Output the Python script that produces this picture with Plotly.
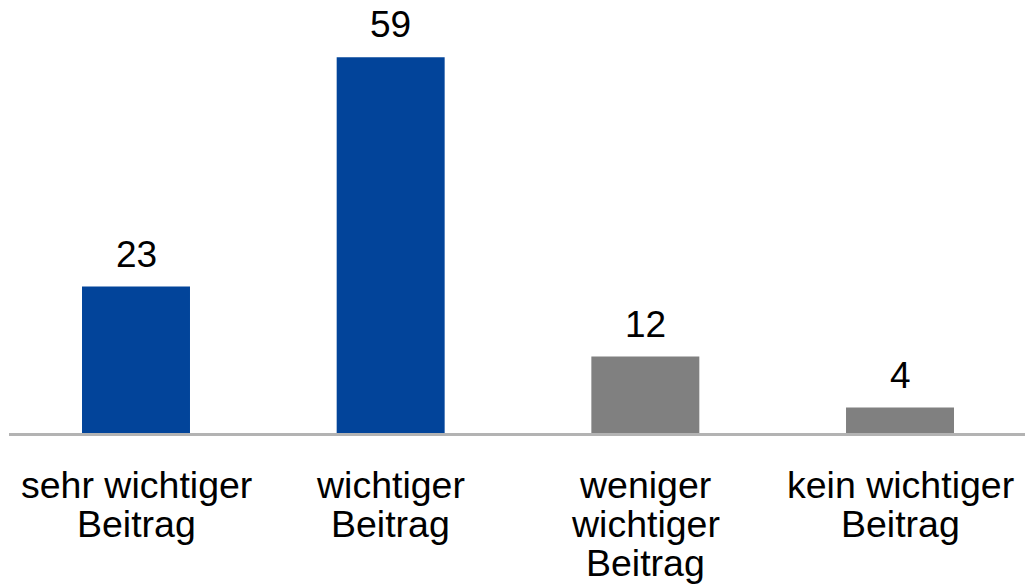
import plotly.graph_objects as go

categories = ["sehr wichtiger Beitrag", "wichtiger Beitrag", "weniger wichtiger Beitrag", "kein wichtiger Beitrag"]
tick_lines = [["sehr wichtiger", "Beitrag"], ["wichtiger", "Beitrag"], ["weniger", "wichtiger", "Beitrag"], ["kein wichtiger", "Beitrag"]]
values = [23, 59, 12, 4]
colors = ["#02449A", "#02449A", "#808080", "#808080"]

FONT = "Liberation Sans, Arial, sans-serif"

fig = go.Figure()
fig.add_trace(go.Bar(x=categories, y=values, marker=dict(color=colors, line=dict(width=0)), width=0.424))

for c, v in zip(categories, values):
    fig.add_annotation(x=c, y=v, text=str(v), showarrow=False, yanchor="bottom", yshift=10,
                       font=dict(family=FONT, size=37, color="#000000"))

for c, lines in zip(categories, tick_lines):
    for i, line in enumerate(lines):
        fig.add_annotation(x=c, y=0, yref="y", text=line, showarrow=False, yanchor="middle",
                           yshift=-(52 + 39 * i), font=dict(family=FONT, size=37.5, color="#000000"))

fig.update_layout(
    width=1025, height=584,
    margin=dict(l=9, r=0, t=0, b=151),
    plot_bgcolor="white", paper_bgcolor="white",
    showlegend=False,
    font=dict(family=FONT, size=36, color="#000000"),
)
fig.update_xaxes(showline=True, linecolor="#B3B3B3", linewidth=2.5, ticks="", showgrid=False,
                 showticklabels=False, range=[-0.4987, 3.4908])
fig.update_yaxes(range=[0, 68], visible=False, showgrid=False, zeroline=False)

fig.write_html("out.html", config={"displayModeBar": False},
               post_script="document.body.style.margin='0';")
